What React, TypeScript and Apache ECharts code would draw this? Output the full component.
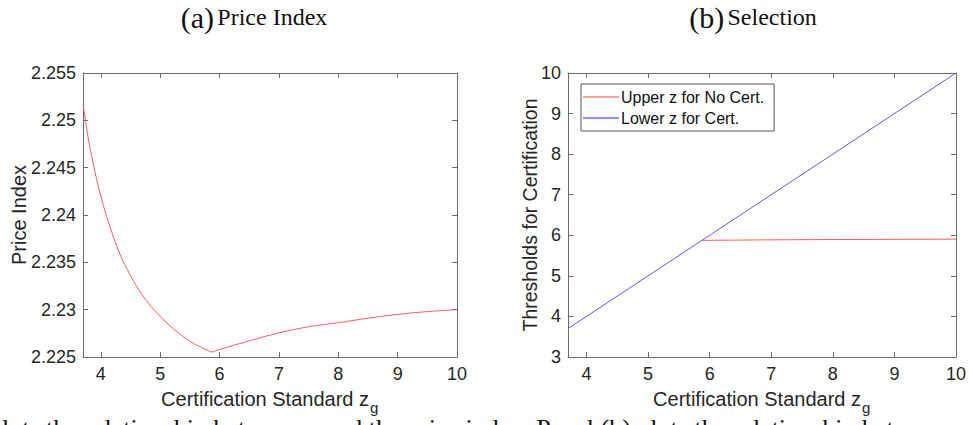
import React, { useEffect, useRef } from "react";
import * as echarts from "echarts";

const xTicks = [4, 5, 6, 7, 8, 9, 10];

const xPrice = [3.7, 3.75, 3.8, 3.9, 4.0, 4.1, 4.2, 4.3, 4.4, 4.6, 4.8, 5.0, 5.2, 5.4, 5.6, 5.8, 5.87, 6.0, 6.5, 7.0, 7.5, 8.0, 8.5, 9.0, 9.5, 10.0];
const yPrice = [2.2518, 2.2496, 2.2477, 2.2446, 2.242, 2.2398, 2.2379, 2.2362, 2.2348, 2.2325, 2.2307, 2.2293, 2.2281, 2.2271, 2.2263, 2.2257, 2.22553, 2.2258, 2.2267, 2.22755, 2.2282, 2.22862, 2.2291, 2.2295, 2.2298, 2.23];

const xUpper = [5.88, 7, 8, 9, 10];
const yUpper = [5.875, 5.888, 5.895, 5.9, 5.905];
const xLower = [3.7, 10];
const yLower = [3.7, 10];

const seriesNames = ["Upper z for No Cert.", "Lower z for Cert."];

const AX = "#6b6b6b";
const TXT = "#262626";
const SANS = "Liberation Sans, Arial, sans-serif";
const SERIF = "Liberation Serif, DejaVu Serif, serif";

function xAxis(gridIndex: number, position: string, labels: boolean) {
  return {
    type: "value",
    gridIndex,
    position,
    min: 3.7,
    max: 10,
    axisLine: { show: true, onZero: false, lineStyle: { color: AX, width: 1 } },
    axisTick: { show: true, inside: true, length: 5, customValues: xTicks, lineStyle: { color: AX } },
    axisLabel: { show: labels, customValues: xTicks, fontSize: 18, color: TXT, margin: 8, fontFamily: SANS },
    splitLine: { show: false },
  };
}

function yAxis(gridIndex: number, position: string, labels: boolean, min: number, max: number, interval: number, fmt?: (v: number) => string) {
  return {
    type: "value",
    gridIndex,
    position,
    min,
    max,
    interval,
    axisLine: { show: true, onZero: false, lineStyle: { color: AX, width: 1 } },
    axisTick: { show: true, inside: true, length: 5, lineStyle: { color: AX } },
    axisLabel: { show: labels, fontSize: 18, color: TXT, margin: 7, fontFamily: SANS, formatter: fmt },
    splitLine: { show: false },
  };
}

export default function App() {
  const ref = useRef<HTMLDivElement>(null);
  useEffect(() => {
    document.body.style.margin = "0";
    const chart = echarts.init(ref.current!, null, { renderer: "svg" });
    const priceData = xPrice.map((x, i) => [x, yPrice[i]]);
    const upperData = xUpper.map((x, i) => [x, yUpper[i]]);
    const lowerData = xLower.map((x, i) => [x, yLower[i]]);
    const fmt3 = (v: number) => String(+(+v).toFixed(3));
    chart.setOption({
      animation: false,
      backgroundColor: "#ffffff",
      grid: [
        { left: 83, top: 73, width: 374, height: 284 },
        { left: 568, top: 73, width: 389, height: 284 },
      ],
      xAxis: [xAxis(0, "bottom", true), xAxis(0, "top", false), xAxis(1, "bottom", true), xAxis(1, "top", false)],
      yAxis: [
        yAxis(0, "left", true, 2.225, 2.255, 0.005, fmt3),
        yAxis(0, "right", false, 2.225, 2.255, 0.005),
        yAxis(1, "left", true, 3, 10, 1),
        yAxis(1, "right", false, 3, 10, 1),
      ],
      legend: {
        data: seriesNames,
        left: 581,
        top: 84,
        orient: "vertical",
        icon: "rect",
        backgroundColor: "#fff",
        borderColor: "#555",
        borderWidth: 1,
        borderRadius: 0,
        padding: [5, 10, 5, 2],
        itemGap: 5,
        itemWidth: 36,
        itemHeight: 1.5,
        textStyle: { fontSize: 16, color: "#111", fontFamily: SANS, padding: [0, 0, 0, -3] },
      },
      series: [
        {
          type: "line",
          name: "price",
          xAxisIndex: 0,
          yAxisIndex: 0,
          data: priceData,
          smooth: 0.3,
          showSymbol: false,
          symbol: "none",
          lineStyle: { color: "#ff5a5a", width: 1 },
          itemStyle: { color: "#ff5a5a" },
        },
        {
          type: "line",
          name: seriesNames[0],
          xAxisIndex: 2,
          yAxisIndex: 2,
          data: upperData,
          showSymbol: false,
          symbol: "none",
          lineStyle: { color: "#ff5a5a", width: 1 },
          itemStyle: { color: "#ff8080" },
        },
        {
          type: "line",
          name: seriesNames[1],
          xAxisIndex: 2,
          yAxisIndex: 2,
          data: lowerData,
          showSymbol: false,
          symbol: "none",
          lineStyle: { color: "#5a5aff", width: 1 },
          itemStyle: { color: "#6a6aff" },
        },
      ],
      graphic: [
        {
          type: "text",
          x: 254,
          y: 17,
          style: {
            text: "{a|(a)} {b|Price Index}",
            align: "center",
            verticalAlign: "middle",
            rich: {
              a: { fontSize: 30, fontFamily: SERIF, fill: "#111" },
              b: { fontSize: 24, fontFamily: SERIF, fill: "#111" },
            },
          },
        },
        {
          type: "text",
          x: 753,
          y: 17,
          style: {
            text: "{a|(b)} {b|Selection}",
            align: "center",
            verticalAlign: "middle",
            rich: {
              a: { fontSize: 30, fontFamily: SERIF, fill: "#111" },
              b: { fontSize: 24, fontFamily: SERIF, fill: "#111" },
            },
          },
        },
        {
          type: "text",
          x: 19,
          y: 215,
          rotation: Math.PI / 2,
          style: { text: "Price Index", align: "center", verticalAlign: "middle", fontSize: 20, fontFamily: SANS, fill: TXT },
        },
        {
          type: "text",
          x: 530,
          y: 215,
          rotation: Math.PI / 2,
          style: { text: "Thresholds for Certification", align: "center", verticalAlign: "middle", fontSize: 19.5, fontFamily: SANS, fill: TXT },
        },
        {
          type: "text",
          x: 369,
          y: 399,
          style: { text: "Certification Standard z", align: "right", verticalAlign: "middle", fontSize: 20, fontFamily: SANS, fill: TXT },
        },
        {
          type: "text",
          x: 370,
          y: 407,
          style: { text: "g", align: "left", verticalAlign: "middle", fontSize: 15, fontFamily: SANS, fill: TXT },
        },
        {
          type: "text",
          x: 861,
          y: 399,
          style: { text: "Certification Standard z", align: "right", verticalAlign: "middle", fontSize: 20, fontFamily: SANS, fill: TXT },
        },
        {
          type: "text",
          x: 862,
          y: 407,
          style: { text: "g", align: "left", verticalAlign: "middle", fontSize: 15, fontFamily: SANS, fill: TXT },
        },
        {
          type: "text",
          x: 2,
          y: 415,
          style: {
            text: "lots the relationship between z and the price index. Panel (b) plots the relationship between",
            align: "left",
            verticalAlign: "top",
            fontSize: 26,
            fontFamily: SERIF,
            fill: "#111",
          },
        },
      ],
    });
    return () => chart.dispose();
  }, []);
  return <div ref={ref} style={{ width: 969, height: 425 }} />;
}
